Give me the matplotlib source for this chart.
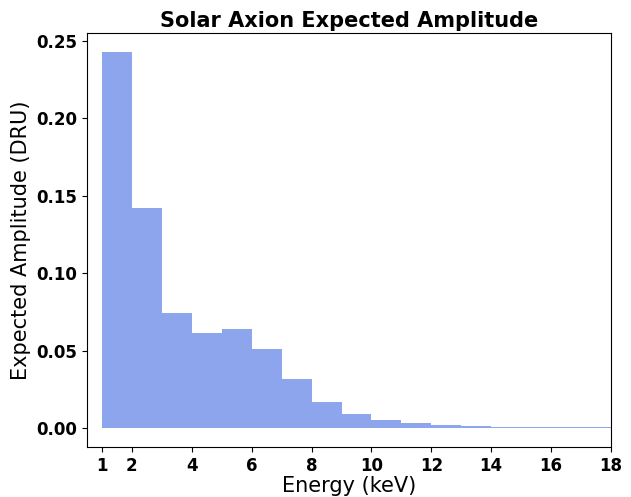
import numpy as np
import matplotlib
matplotlib.use("Agg")
import matplotlib.pyplot as plt

# energy bin edges (keV) and expected amplitude per bin (DRU)
bin_edges = [1, 2, 3, 4, 5, 6, 7, 8, 9, 10, 11, 12, 13, 14, 15, 16, 17, 18]
amplitude = [0.243, 0.142, 0.0745, 0.0612, 0.0638, 0.0509, 0.0318, 0.0170,
             0.0091, 0.0051, 0.0032, 0.0019, 0.0013, 0.0010, 0.0010, 0.0008, 0.0008]
xticks = [1, 2, 4, 6, 8, 10, 12, 14, 16, 18]

fig = plt.figure(figsize=(6.31, 4.97), dpi=100)
ax = fig.add_axes([87/631, 50/497, 524/631, 414/497])

centers = np.array(bin_edges[:-1]) + 0.5
ax.hist(centers, bins=bin_edges, weights=amplitude, histtype='stepfilled',
        color='royalblue', alpha=0.6)

ax.set_xlim(0.5, 18)
ax.set_ylim(-0.01215, 0.25515)
ax.set_xticks(xticks)
ax.set_yticks([0.0, 0.05, 0.10, 0.15, 0.20, 0.25])
ax.set_yticklabels(['0.00', '0.05', '0.10', '0.15', '0.20', '0.25'])
for lab in ax.get_xticklabels() + ax.get_yticklabels():
    lab.set_fontweight('bold')
    lab.set_fontsize(12)
ax.set_xlabel('Energy (keV)', fontsize=15, labelpad=1)
ax.set_ylabel('Expected Amplitude (DRU)', fontsize=15)
ax.set_title('Solar Axion Expected Amplitude', fontsize=15, fontweight='bold', pad=4)

fig.savefig('out.png', dpi=100)
